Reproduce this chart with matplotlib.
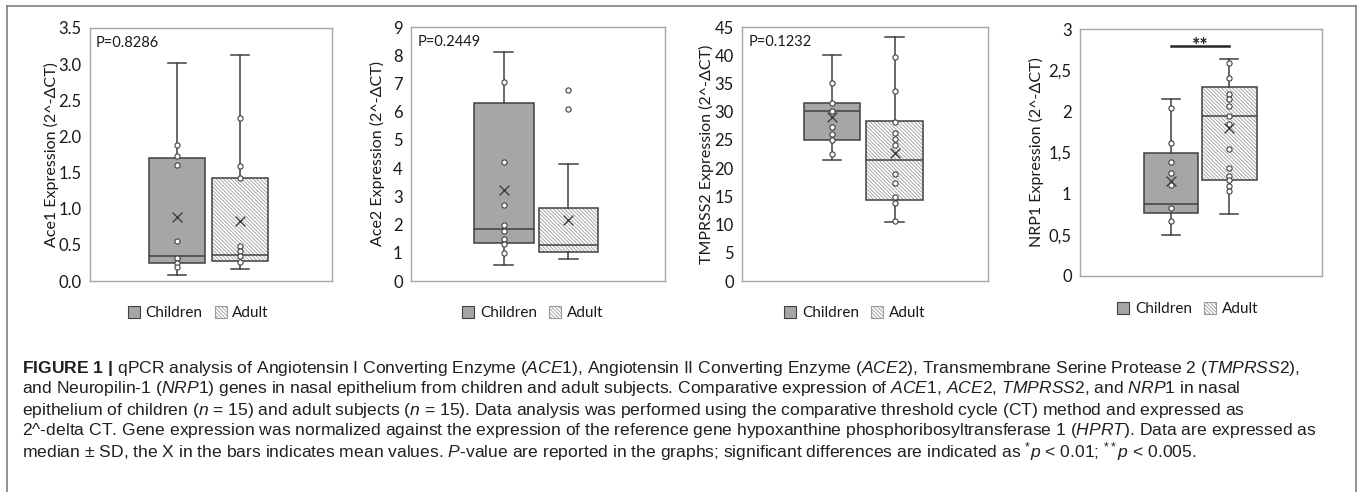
import numpy as np
import matplotlib.pyplot as plt
from matplotlib.patches import Patch, Rectangle
from matplotlib.lines import Line2D

plt.rcParams['font.family'] = ['Lato', 'DejaVu Sans']
plt.rcParams['mathtext.fontset'] = 'custom'
plt.rcParams['mathtext.rm'] = 'Liberation Sans'
plt.rcParams['mathtext.it'] = 'Liberation Sans:italic'
plt.rcParams['mathtext.bf'] = 'Liberation Sans:bold'
plt.rcParams['hatch.linewidth'] = 0.6

# ---- data ----
groups = ["Children", "Adult"]
y_labels = ["Ace1 Expression (2^-ΔCT)", "Ace2 Expression (2^-ΔCT)",
            "TMPRSS2 Expression (2^-ΔCT)", "NRP1 Expression (2^-ΔCT)"]
p_texts = ["P=0.8286", "P=0.2449", "P=0.1232", ""]

# box stats: [whisker low, q1, median, q3, whisker high]
ace1_children = [0.08, 0.25, 0.35, 1.70, 3.02]
ace1_adult = [0.17, 0.27, 0.36, 1.42, 3.12]
ace1_means = [0.88, 0.83]
ace1_children_pts = [1.88, 1.73, 1.61, 0.56, 0.32, 0.25, 0.19]
ace1_adult_pts = [2.25, 1.59, 1.43, 0.49, 0.42, 0.34, 0.26]
ace1_adult_out = []
ace1_ticks = [0, 0.5, 1.0, 1.5, 2.0, 2.5, 3.0, 3.5]
ace1_tick_labels = ["0.0", "0.5", "1.0", "1.5", "2.0", "2.5", "3.0", "3.5"]

ace2_children = [0.58, 1.33, 1.86, 6.32, 8.11]
ace2_adult = [0.79, 1.03, 1.26, 2.59, 4.14]
ace2_means = [3.22, 2.17]
ace2_children_pts = [7.04, 4.21, 2.71, 1.98, 1.78, 1.49, 1.32, 1.00]
ace2_adult_pts = []
ace2_adult_out = [6.77, 6.11]
ace2_ticks = [0, 1, 2, 3, 4, 5, 6, 7, 8, 9]
ace2_tick_labels = ["0", "1", "2", "3", "4", "5", "6", "7", "8", "9"]

tmprss2_children = [21.4, 25.0, 30.1, 31.6, 40.1]
tmprss2_adult = [10.5, 14.3, 21.4, 28.3, 43.2]
tmprss2_means = [29.1, 22.6]
tmprss2_children_pts = [35.0, 31.5, 30.2, 27.2, 26.0, 25.0, 22.5]
tmprss2_adult_pts = [39.6, 33.6, 28.1, 26.2, 25.2, 24.1, 19.0, 17.3, 14.9, 13.9, 10.6]
tmprss2_adult_out = []
tmprss2_ticks = [0, 5, 10, 15, 20, 25, 30, 35, 40, 45]
tmprss2_tick_labels = ["0", "5", "10", "15", "20", "25", "30", "35", "40", "45"]

nrp1_children = [0.50, 0.77, 0.88, 1.49, 2.15]
nrp1_adult = [0.75, 1.17, 1.94, 2.30, 2.64]
nrp1_means = [1.15, 1.80]
nrp1_children_pts = [2.04, 1.61, 1.38, 1.25, 1.10, 0.83, 0.67]
nrp1_adult_pts = [2.59, 2.40, 2.21, 2.15, 2.07, 1.94, 1.85, 1.54, 1.31, 1.21, 1.16, 1.09, 1.03]
nrp1_adult_out = []
nrp1_ticks = [0, 0.5, 1, 1.5, 2, 2.5, 3]
nrp1_tick_labels = ["0", "0,5", "1", "1,5", "2", "2,5", "3"]
nrp1_sig_y = 2.79

caption = [
    r"$\mathbf{FIGURE\ 1\ |}$ qPCR analysis of Angiotensin I Converting Enzyme ($\mathit{ACE1}$), Angiotensin II Converting Enzyme ($\mathit{ACE2}$), Transmembrane Serine Protease 2 ($\mathit{TMPRSS2}$),",
    r"and Neuropilin-1 $\mathit{(NRP1)}$ genes in nasal epithelium from children and adult subjects. Comparative expression of $\mathit{ACE1}$, $\mathit{ACE2}$, $\mathit{TMPRSS2}$, and $\mathit{NRP1}$ in nasal",
    r"epithelium of children ($\mathit{n}$ = 15) and adult subjects ($\mathit{n}$ = 15). Data analysis was performed using the comparative threshold cycle (CT) method and expressed as",
    r"2^-delta CT. Gene expression was normalized against the expression of the reference gene hypoxanthine phosphoribosyltransferase 1 ($\mathit{HPRT}$). Data are expressed as",
    r"median ± SD, the X in the bars indicates mean values. $\mathit{P}$-value are reported in the graphs; significant differences are indicated as $^{*}\mathit{p}$ < 0.01; $^{**}\mathit{p}$ < 0.005.",
]

panels = [
    (ace1_children, ace1_adult, ace1_means, ace1_children_pts, ace1_adult_pts, ace1_adult_out, ace1_ticks, ace1_tick_labels),
    (ace2_children, ace2_adult, ace2_means, ace2_children_pts, ace2_adult_pts, ace2_adult_out, ace2_ticks, ace2_tick_labels),
    (tmprss2_children, tmprss2_adult, tmprss2_means, tmprss2_children_pts, tmprss2_adult_pts, tmprss2_adult_out, tmprss2_ticks, tmprss2_tick_labels),
    (nrp1_children, nrp1_adult, nrp1_means, nrp1_children_pts, nrp1_adult_pts, nrp1_adult_out, nrp1_ticks, nrp1_tick_labels),
]

# ---- layout (pixels) ----
W, H = 1360, 492
axes_px = [(90, 28, 332, 281), (411, 27, 665, 281), (742, 27, 988, 281), (1080, 29, 1322, 276)]
box_pos = [(0.36, 0.62), (0.366, 0.619), (0.366, 0.62), (0.375, 0.617)]
box_w = [0.23, 0.234, 0.228, 0.225]
ylabel_x = [51.7, 378, 706.7, 1036.7]
legend_xy = [(198.5, 313), (532.7, 313), (854.7, 313), (1187.7, 309)]

dark = '#404040'
fill_c = '#a6a6a6'
hatch_c = '#9a9a9a'
text_c = '#1a1a1a'
adult_hatch = '\\' * 9

fig = plt.figure(figsize=(W / 100, H / 100), dpi=100)

for i, (child, adult, means, pts_c, pts_a, out_a, ticks, tlabels) in enumerate(panels):
    x0, y0, x1, y1 = axes_px[i]
    ax = fig.add_axes([x0 / W, 1 - y1 / H, (x1 - x0) / W, (y1 - y0) / H])
    stats = []
    for s in (child, adult):
        stats.append(dict(whislo=s[0], q1=s[1], med=s[2], q3=s[3], whishi=s[4], fliers=[]))
    pos = box_pos[i]
    bp = ax.bxp(stats, positions=pos, widths=box_w[i], patch_artist=True,
                showfliers=False, capwidths=0.075,
                boxprops=dict(facecolor=fill_c, edgecolor=dark, linewidth=1.1),
                medianprops=dict(color=dark, linewidth=1.1),
                whiskerprops=dict(color=dark, linewidth=1.1),
                capprops=dict(color=dark, linewidth=1.1))
    adult_box = bp['boxes'][1]
    adult_box.set_facecolor('white')
    adult_box.set_edgecolor(hatch_c)
    adult_box.set_linewidth(0)
    adult_box.set_hatch(adult_hatch)
    ax.add_patch(Rectangle((pos[1] - box_w[i] / 2, adult[1]), box_w[i], adult[3] - adult[1],
                           fill=False, edgecolor=dark, linewidth=1.1, zorder=2.5))
    # inner points, outliers and means
    ax.scatter([pos[0]] * len(pts_c), pts_c, s=14, facecolor='white', edgecolor=dark, linewidth=0.8, zorder=4)
    ax.scatter([pos[1]] * len(pts_a), pts_a, s=14, facecolor='white', edgecolor=dark, linewidth=0.8, zorder=4)
    ax.scatter([pos[1]] * len(out_a), out_a, s=14, facecolor='white', edgecolor=dark, linewidth=0.8, zorder=4)
    ax.scatter(pos, means, marker='x', s=50, color=dark, linewidth=1.0, zorder=5)

    ax.set_xlim(0, 1)
    ax.set_ylim(ticks[0], ticks[-1])
    ax.set_xticks([])
    ax.set_yticks(ticks)
    ax.set_yticklabels(tlabels)
    ax.tick_params(axis='y', length=0, pad=6, labelsize=12, labelcolor=text_c)
    for sp in ax.spines.values():
        sp.set_color('#a6a6a6')
        sp.set_linewidth(1.0)
    ax.set_ylabel(y_labels[i], fontsize=11.5, color=text_c)
    ax.yaxis.set_label_coords((ylabel_x[i] + 7 - x0) / (x1 - x0), 0.5)
    if p_texts[i]:
        ax.text(0.025, 0.94, p_texts[i], transform=ax.transAxes, fontsize=10.5,
                color=text_c, ha='left', va='center')
    if i == 3:
        ax.plot(pos, [nrp1_sig_y, nrp1_sig_y], color='#262626', linewidth=1.8)
        ax.text(np.mean(pos), nrp1_sig_y - 0.06, "**", ha='center', va='baseline',
                fontsize=14, fontweight='bold', color=text_c)

    handles = [Patch(facecolor=fill_c, edgecolor=dark, linewidth=0.8),
               Patch(facecolor='white', edgecolor=hatch_c, hatch=adult_hatch, linewidth=0.8)]
    lx, ly = legend_xy[i]
    fig.legend(handles, groups, loc='center', bbox_to_anchor=(lx / W, 1 - ly / H),
               ncol=2, frameon=False, fontsize=11, handlelength=0.8, handleheight=0.8,
               handletextpad=0.35, columnspacing=0.8, labelcolor=text_c)

# outer frame
frame_c = '#7f7f7f'
fig.add_artist(Line2D([7 / W, 1356 / W], [1 - 6 / H, 1 - 6 / H], color=frame_c, linewidth=1.2))
fig.add_artist(Line2D([7 / W, 7 / W], [0, 1 - 6 / H], color=frame_c, linewidth=1.2))
fig.add_artist(Line2D([1356 / W, 1356 / W], [0, 1 - 6 / H], color=frame_c, linewidth=1.2))

# caption
for k, line in enumerate(caption):
    fig.text(22 / W, 1 - (368 + 21 * k) / H, line, fontsize=12.6, color='#231f20',
             ha='left', va='center', family='Liberation Sans')

fig.savefig('out.png', dpi=100)
